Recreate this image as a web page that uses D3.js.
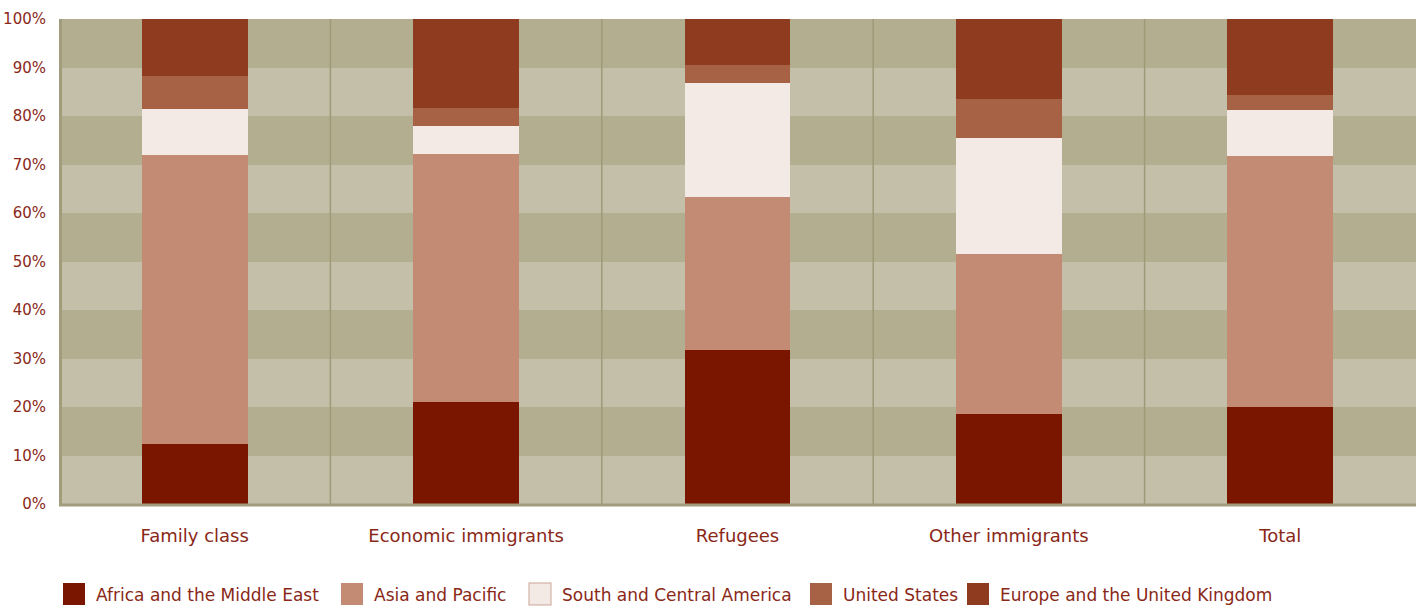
<!DOCTYPE html>
<html>
<head>
<meta charset="utf-8">
<script src="https://cdn.jsdelivr.net/npm/d3@7"></script>
<style>
  body { margin: 0; background: #fff; }
  text { font-family: "DejaVu Sans", sans-serif; fill: #8a2818; }
</style>
</head>
<body>
<script>
// categories and shares (%)
var categories = ["Family class", "Economic immigrants", "Refugees", "Other immigrants", "Total"];
var regions = ["Africa and the Middle East", "Asia and Pacific", "South and Central America", "United States", "Europe and the United Kingdom"];
var africa   = [12.4, 21.0, 31.8, 18.6, 20.0];
var asia     = [59.6, 51.2, 31.5, 32.9, 51.8];
var scAmerica = [9.4, 5.7, 23.5, 24.0, 9.4];
var usa      = [6.8, 3.7, 3.7, 8.0, 3.1];
var europe   = [11.8, 18.4, 9.5, 16.5, 15.7];
var yTicks = [0, 10, 20, 30, 40, 50, 60, 70, 80, 90, 100];

var colors = ["#7a1600", "#c48b74", "#f4eae5", "#a76246", "#8f3b20"];

var width = 1426, height = 606;
var marges = { top: 19, right: 10, bottom: 102, left: 59 };

var svg = d3.select("body").append("svg")
  .attr("width", width)
  .attr("height", height);

var echelleX = d3.scaleBand()
  .domain(categories)
  .range([marges.left, width - marges.right]);

var echelleY = d3.scaleLinear()
  .domain([0, 100])
  .range([height - marges.bottom, marges.top]);

// alternating horizontal bands
var bandes = d3.range(10);
svg.selectAll("rect.bande").data(bandes).enter()
  .append("rect")
  .attr("class", "bande")
  .attr("shape-rendering", "crispEdges")
  .attr("x", marges.left)
  .attr("width", width - marges.right - marges.left)
  .attr("y", d => echelleY((d + 1) * 10))
  .attr("height", d => echelleY(d * 10) - echelleY((d + 1) * 10))
  .attr("fill", d => d % 2 == 0 ? "#c4bfa8" : "#b3ae90");

// vertical separators between categories
svg.selectAll("line.sep").data(categories.slice(1)).enter()
  .append("line")
  .attr("x1", d => echelleX(d))
  .attr("x2", d => echelleX(d))
  .attr("y1", echelleY(100))
  .attr("y2", echelleY(0))
  .attr("stroke", "#9e9a78")
  .attr("stroke-width", 1.5);

// stacked bars
var table = categories.map(function(c, i) {
  return { cat: c, r0: africa[i], r1: asia[i], r2: scAmerica[i], r3: usa[i], r4: europe[i] };
});
var pile = d3.stack().keys(["r0", "r1", "r2", "r3", "r4"])(table);

var barW = echelleX.bandwidth() * 0.39;

svg.selectAll("g.serie").data(pile).enter()
  .append("g")
  .attr("fill", (d, i) => colors[i])
  .attr("shape-rendering", "crispEdges")
  .selectAll("rect")
  .data(d => d)
  .enter()
  .append("rect")
  .attr("x", d => echelleX(d.data.cat) + echelleX.bandwidth() / 2 - barW / 2)
  .attr("width", barW)
  .attr("y", d => echelleY(d[1]))
  .attr("height", d => echelleY(d[0]) - echelleY(d[1]));

// axes
var axeY = d3.axisLeft(echelleY)
  .tickValues(yTicks)
  .tickSize(0)
  .tickPadding(13)
  .tickFormat(d => d + "%");

var gY = svg.append("g")
  .attr("transform", "translate(" + marges.left + ",0)")
  .call(axeY);
gY.select(".domain").remove();
gY.selectAll("text").style("font-size", "15px").style("font-family", "DejaVu Sans").attr("fill", "#8a2818");

svg.append("line")
  .attr("x1", marges.left + 1.5).attr("x2", marges.left + 1.5)
  .attr("y1", echelleY(100)).attr("y2", echelleY(0) + 2)
  .attr("stroke", "#a09c7c").attr("stroke-width", 3);

svg.append("line")
  .attr("x1", marges.left).attr("x2", width - marges.right)
  .attr("y1", echelleY(0) + 1).attr("y2", echelleY(0) + 1)
  .attr("stroke", "#a09c7c").attr("stroke-width", 3);

var axeX = d3.axisBottom(echelleX).tickSize(0).tickPadding(25);
var gX = svg.append("g")
  .attr("transform", "translate(0," + echelleY(0) + ")")
  .call(axeX);
gX.select(".domain").remove();
gX.selectAll("text").style("font-size", "18px").style("font-family", "DejaVu Sans").attr("fill", "#8a2818");

// legend
var legendX = [63, 341, 529, 810, 967];
var legende = svg.selectAll("g.leg").data(regions).enter()
  .append("g")
  .attr("transform", (d, i) => "translate(" + legendX[i] + ",583)");

legende.append("rect")
  .attr("width", 22).attr("height", 22)
  .attr("fill", (d, i) => colors[i])
  .attr("stroke", (d, i) => i == 2 ? "#c9a595" : "none");

legende.append("text")
  .attr("x", 33).attr("y", 12)
  .attr("dy", "0.35em")
  .style("font-size", "17px")
  .text(d => d);
</script>
</body>
</html>
